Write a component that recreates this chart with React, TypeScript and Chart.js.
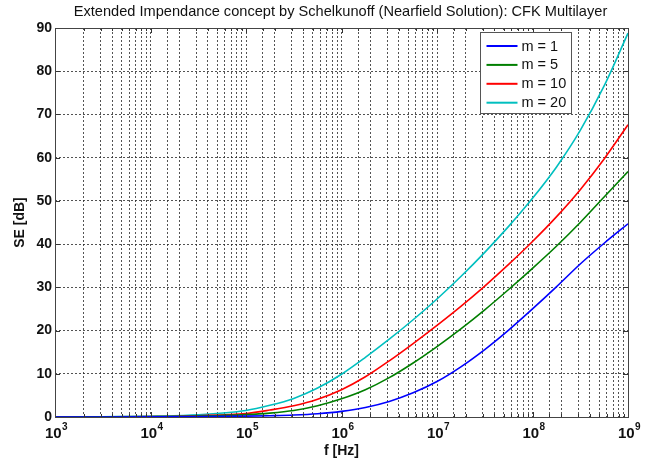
import React, { useEffect, useRef } from 'react';
import { Chart, registerables } from 'chart.js';

Chart.register(...registerables);

const FONT = '"Liberation Sans", Arial, Helvetica, sans-serif';

const TITLE = 'Extended Impendance concept by Schelkunoff (Nearfield Solution): CFK Multilayer';
const X_LABEL = 'f [Hz]';
const Y_LABEL = 'SE [dB]';

const X_MIN = 1e3;
const X_MAX = 1e9;
const Y_MIN = 0;
const Y_MAX = 90;
const Y_STEP = 10;

// frequency samples (Hz)
const frequencies = [
  1e3, 3.162e3, 1e4, 3.162e4, 1e5, 1.778e5, 3.162e5, 5.623e5,
  1e6, 1.778e6, 3.162e6, 5.623e6, 1e7, 1.778e7, 3.162e7, 5.623e7,
  1e8, 1.778e8, 3.162e8, 5.623e8, 1e9,
];

const seriesLabels = ['m = 1', 'm = 5', 'm = 10', 'm = 20'];
const seriesColors = ['#0000ff', '#007f00', '#ff0000', '#00bfbf'];

// shielding effectiveness (dB)
const seM1 = [0, 0, 0.02, 0.08, 0.2, 0.3, 0.45, 0.75, 1.3, 2.2, 3.6, 5.6, 8.2, 11.6, 15.6, 20.1, 25.0, 30.1, 35.4, 40.2, 44.7];
const seM5 = [0, 0.02, 0.07, 0.2, 0.55, 0.9, 1.5, 2.6, 4.2, 6.3, 9.1, 12.5, 16.3, 20.4, 24.8, 29.5, 34.4, 39.5, 45.0, 50.9, 56.8];
const seM10 = [0, 0.03, 0.1, 0.3, 0.8, 1.6, 2.6, 4.1, 6.3, 9.3, 13.0, 17.0, 21.2, 25.6, 30.3, 35.3, 40.6, 46.3, 52.6, 59.7, 67.6];
const seM20 = [0, 0.05, 0.2, 0.5, 1.5, 2.7, 4.3, 6.7, 9.9, 13.8, 18.0, 22.5, 27.3, 32.5, 38.1, 44.1, 50.6, 57.8, 66.3, 76.6, 88.8];

const allSeries = [seM1, seM5, seM10, seM20];

const decorPlugin = {
  id: 'matlabDecor',
  afterDatasetsDraw(chart: any) {
    const { ctx, chartArea } = chart;
    const { left, right, top, bottom } = chartArea;
    const xs = chart.scales.x;
    const ys = chart.scales.y;
    ctx.save();
    // inner tick marks
    ctx.strokeStyle = '#333';
    ctx.lineWidth = 1;
    ctx.setLineDash([]);
    ctx.beginPath();
    xs.ticks.forEach((t: any) => {
      const lg = Math.log10(t.value);
      const major = Math.abs(lg - Math.round(lg)) < 1e-9;
      const len = major ? 5 : 3;
      const px = Math.round(xs.getPixelForValue(t.value)) + 0.5;
      ctx.moveTo(px, bottom);
      ctx.lineTo(px, bottom - len);
      ctx.moveTo(px, top);
      ctx.lineTo(px, top + len);
    });
    ys.ticks.forEach((t: any) => {
      const py = Math.round(ys.getPixelForValue(t.value)) + 0.5;
      ctx.moveTo(left, py);
      ctx.lineTo(left + 5, py);
      ctx.moveTo(right, py);
      ctx.lineTo(right - 5, py);
    });
    ctx.stroke();
    // frame
    ctx.strokeStyle = '#444';
    ctx.strokeRect(Math.round(left) + 0.5, Math.round(top) + 0.5, Math.round(right - left), Math.round(bottom - top));

    // legend
    const bx = Math.round(right) - 147.5;
    const by = Math.round(top) + 4.5;
    const bw = 91;
    const bh = 81;
    ctx.fillStyle = '#fff';
    ctx.fillRect(bx, by, bw, bh);
    ctx.strokeStyle = '#555';
    ctx.strokeRect(bx, by, bw, bh);
    ctx.font = `14.5px ${FONT}`;
    ctx.textBaseline = 'middle';
    ctx.textAlign = 'left';
    chart.data.datasets.forEach((ds: any, i: number) => {
      const ry = by + 13.5 + i * 18.9;
      ctx.strokeStyle = ds.borderColor;
      ctx.lineWidth = 2;
      ctx.beginPath();
      ctx.moveTo(bx + 6, ry);
      ctx.lineTo(bx + 37, ry);
      ctx.stroke();
      ctx.fillStyle = '#111';
      ctx.fillText(ds.label, bx + 41, ry + 0.5);
    });
    ctx.restore();
  },
  afterDraw(chart: any) {
    const { ctx, chartArea } = chart;
    const { left, right, top, bottom } = chartArea;
    const xs = chart.scales.x;
    ctx.save();
    ctx.fillStyle = '#111';
    // x tick labels 10^n
    xs.ticks.forEach((t: any) => {
      const lg = Math.log10(t.value);
      if (Math.abs(lg - Math.round(lg)) > 1e-9) return;
      const base = '10';
      const ex = String(Math.round(lg));
      ctx.font = `bold 15px ${FONT}`;
      const w1 = ctx.measureText(base).width;
      ctx.font = `bold 10px ${FONT}`;
      const w2 = ctx.measureText(ex).width;
      const px = xs.getPixelForValue(t.value);
      const sx = px - (w1 + w2) / 2 + 1;
      ctx.textAlign = 'left';
      ctx.textBaseline = 'alphabetic';
      ctx.font = `bold 15px ${FONT}`;
      ctx.fillText(base, sx, bottom + 21);
      ctx.font = `bold 10px ${FONT}`;
      ctx.fillText(ex, sx + w1 + 0.5, bottom + 13);
    });
    // axis titles
    ctx.font = `bold 14px ${FONT}`;
    ctx.textAlign = 'center';
    ctx.textBaseline = 'middle';
    ctx.fillText(X_LABEL, (left + right) / 2, bottom + 34);
    ctx.save();
    ctx.translate(20, (top + bottom) / 2);
    ctx.rotate(-Math.PI / 2);
    ctx.fillText(Y_LABEL, 0, 0);
    ctx.restore();
    // title
    ctx.font = `14.6px ${FONT}`;
    ctx.fillText(TITLE, (left + right) / 2 - 1, 12);
    ctx.restore();
  },
};

export default function App() {
  const canvasRef = useRef<HTMLCanvasElement | null>(null);

  useEffect(() => {
    const canvas = canvasRef.current;
    if (!canvas) return;
    Chart.defaults.font.family = FONT;
    const chart = new Chart(canvas, {
      type: 'line',
      data: {
        datasets: allSeries.map((s, i) => ({
          label: seriesLabels[i],
          data: frequencies.map((f, j) => ({ x: f, y: s[j] })),
          borderColor: seriesColors[i],
          backgroundColor: seriesColors[i],
          borderWidth: 1.6,
          pointRadius: 0,
          cubicInterpolationMode: 'monotone' as const,
          fill: false,
        })),
      },
      options: {
        animation: false,
        responsive: false,
        layout: { padding: { left: 0, right: 23, top: 28, bottom: 0 } },
        plugins: {
          legend: { display: false },
          title: { display: false },
          tooltip: { enabled: false },
        },
        scales: {
          x: {
            type: 'logarithmic',
            min: X_MIN,
            max: X_MAX,
            ticks: { display: false },
            grid: { color: 'rgba(40,40,40,0.8)', drawTicks: false, lineWidth: 1 },
            border: { display: false, dash: [2, 2] },
            afterFit: (scale: any) => { scale.height = 45; },
          },
          y: {
            type: 'linear',
            min: Y_MIN,
            max: Y_MAX,
            ticks: {
              stepSize: Y_STEP,
              padding: 3,
              color: '#111',
              font: { family: FONT, size: 14, weight: 'bold' },
            },
            grid: { color: 'rgba(40,40,40,0.8)', drawTicks: false, lineWidth: 1 },
            border: { display: false, dash: [2, 2] },
            afterFit: (scale: any) => { scale.width = 55; },
          },
        },
      },
      plugins: [decorPlugin],
    } as any);
    return () => chart.destroy();
  }, []);

  return (
    <div style={{ position: 'absolute', left: 0, top: 0, width: 651, height: 462, background: '#fff' }}>
      <canvas ref={canvasRef} width={651} height={462} style={{ display: 'block' }} />
    </div>
  );
}
